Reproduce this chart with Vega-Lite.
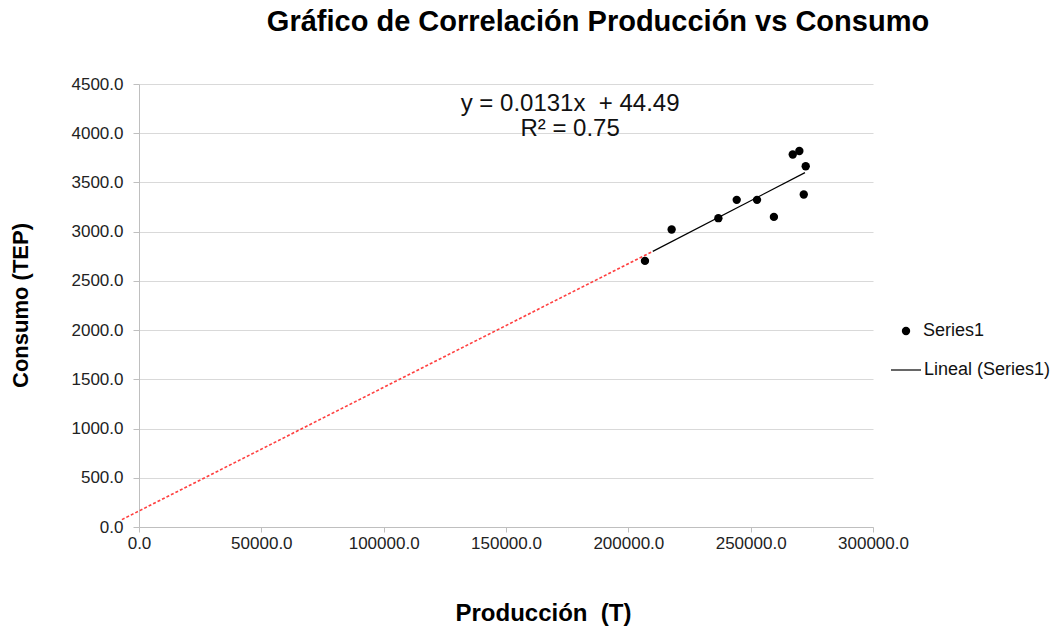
{
  "$schema": "https://vega.github.io/schema/vega-lite/v6.json",
  "autosize": "none",
  "width": 734,
  "height": 443,
  "padding": {"left": 139, "top": 84, "right": 189, "bottom": 101},
  "background": "white",
  "config": {
    "view": {"stroke": null},
    "font": "Liberation Sans"
  },
  "title": {
    "text": "Gráfico de Correlación Producción vs Consumo",
    "font": "Liberation Sans",
    "fontSize": 29,
    "fontWeight": "bold",
    "color": "#000000",
    "anchor": "middle",
    "frame": "group",
    "dx": 92,
    "offset": 38
  },
  "datasets": {
    "puntos": [
      {"produccion": 206800, "consumo": 2703, "serie": "Series1"},
      {"produccion": 217700, "consumo": 3022, "serie": "Series1"},
      {"produccion": 236800, "consumo": 3137, "serie": "Series1"},
      {"produccion": 244300, "consumo": 3323, "serie": "Series1"},
      {"produccion": 252600, "consumo": 3323, "serie": "Series1"},
      {"produccion": 259500, "consumo": 3150, "serie": "Series1"},
      {"produccion": 267200, "consumo": 3784, "serie": "Series1"},
      {"produccion": 269900, "consumo": 3820, "serie": "Series1"},
      {"produccion": 272500, "consumo": 3665, "serie": "Series1"},
      {"produccion": 271700, "consumo": 3377, "serie": "Series1"}
    ],
    "extension": [
      {"produccion": -7000, "consumo": 75},
      {"produccion": 210000, "consumo": 2800}
    ],
    "tendencia": [
      {"produccion": 210000, "consumo": 2800, "serie": "Lineal (Series1)"},
      {"produccion": 272200, "consumo": 3600, "serie": "Lineal (Series1)"}
    ]
  },
  "encoding": {
    "x": {
      "field": "produccion",
      "type": "quantitative",
      "scale": {"domain": [0, 300000], "nice": false, "zero": false},
      "axis": {
        "title": "Producción\u00a0 (T)",
        "titleFont": "Liberation Sans",
        "titleFontSize": 24,
        "titleFontWeight": "bold",
        "titleColor": "#000000",
        "titleX": 404,
        "titleY": 86,
        "titleBaseline": "middle",
        "titleAlign": "center",
        "values": [0, 50000, 100000, 150000, 200000, 250000, 300000],
        "format": ".1f",
        "labelFont": "Liberation Sans",
        "labelFontSize": 17,
        "labelColor": "#222222",
        "labelPadding": 3,
        "labelFlush": false,
        "labelOverlap": false,
        "tickSize": 5,
        "tickColor": "#bfbfbf",
        "domainColor": "#bfbfbf",
        "grid": false
      }
    },
    "y": {
      "field": "consumo",
      "type": "quantitative",
      "scale": {"domain": [0, 4500], "nice": false},
      "axis": {
        "title": "Consumo (TEP)",
        "titleFont": "Liberation Sans",
        "titleFontSize": 22,
        "titleFontWeight": "bold",
        "titleColor": "#000000",
        "titleX": -119,
        "titleY": 221,
        "titleBaseline": "middle",
        "titleAlign": "center",
        "titleAngle": -90,
        "values": [0, 500, 1000, 1500, 2000, 2500, 3000, 3500, 4000, 4500],
        "format": ".1f",
        "labelFont": "Liberation Sans",
        "labelFontSize": 17,
        "labelColor": "#222222",
        "labelPadding": 10,
        "labelFlush": false,
        "labelOverlap": false,
        "tickSize": 6,
        "tickColor": "#bfbfbf",
        "domainColor": "#bfbfbf",
        "grid": true,
        "gridColor": "#d9d9d9"
      }
    }
  },
  "layer": [
    {
      "data": {"name": "extension"},
      "mark": {"type": "line", "color": "#ff4040", "strokeWidth": 1.6, "strokeDash": [3, 2], "clip": false}
    },
    {
      "data": {"name": "tendencia"},
      "mark": {"type": "line", "strokeWidth": 1.2},
      "encoding": {
        "color": {
          "field": "serie",
          "type": "nominal",
          "scale": {"range": ["#000000"]},
          "legend": {
            "title": null,
            "orient": "none",
            "legendX": 751,
            "legendY": 270,
            "padding": 0,
            "symbolType": "stroke",
            "symbolSize": 900,
            "symbolStrokeWidth": 1.2,
            "labelOffset": 2,
            "labelFont": "Liberation Sans",
            "labelFontSize": 18,
            "labelColor": "#111111"
          }
        }
      }
    },
    {
      "data": {"name": "puntos"},
      "mark": {"type": "point", "filled": true, "color": "#000000", "size": 70, "opacity": 1},
      "encoding": {
        "shape": {
          "field": "serie",
          "type": "nominal",
          "scale": {"range": ["circle"]},
          "legend": {
            "title": null,
            "orient": "none",
            "legendX": 758,
            "legendY": 238,
            "padding": 0,
            "symbolSize": 70,
            "symbolFillColor": "#000000",
            "symbolStrokeColor": "#000000",
            "symbolOpacity": 1,
            "labelOffset": 8,
            "labelFont": "Liberation Sans",
            "labelFontSize": 18,
            "labelColor": "#111111"
          }
        }
      }
    },
    {
      "data": {"values": [{"etiqueta": "y = 0.0131x\u00a0 + 44.49", "produccion": 176200, "consumo": 4300}, {"etiqueta": "R² = 0.75", "produccion": 176200, "consumo": 4045}]},
      "mark": {"type": "text", "font": "Liberation Sans", "fontSize": 24, "color": "#111111", "align": "center", "baseline": "middle"},
      "encoding": {
        "text": {"field": "etiqueta"}
      }
    }
  ]
}
